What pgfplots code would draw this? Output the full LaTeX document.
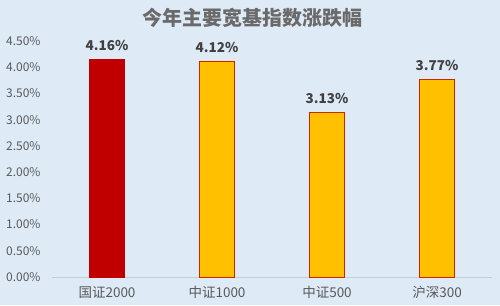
\documentclass[border=0pt]{standalone}
\usepackage{pgfplots}
\pgfplotsset{compat=1.18}
\usepackage{fontspec}
\setmainfont{Noto Sans CJK SC}
\definecolor{bgc}{RGB}{222,235,247}
\definecolor{txt}{RGB}{89,89,89}
\definecolor{dlab}{RGB}{64,64,64}
\definecolor{redbar}{RGB}{192,0,0}
\definecolor{yelbar}{RGB}{255,192,0}
\definecolor{axisc}{RGB}{200,205,210}
\begin{document}
\begin{tikzpicture}[x=1pt,y=1pt]
\useasboundingbox (0,0) rectangle (500,305);
\fill[bgc] (0,0) rectangle (500,305);
\node[text=txt!90!white, font=\fontsize{20}{22}\selectfont\bfseries] at (252,287) {今年主要宽基指数涨跌幅};
\begin{axis}[
  at={(52pt,28pt)}, anchor=south west,
  scale only axis, width=440pt, height=236pt,
  xmin=-0.5, xmax=3.5, ymin=0, ymax=4.5,
  axis x line=bottom, axis y line=left,
  x axis line style={draw=axisc, -}, y axis line style={draw=none},
  major tick length=0pt,
  xtick={0,1,2,3},
  xticklabels={国证2000,中证1000,中证500,沪深300},
  ytick={0,0.5,1,1.5,2,2.5,3,3.5,4,4.5},
  yticklabels={0.00\%,0.50\%,1.00\%,1.50\%,2.00\%,2.50\%,3.00\%,3.50\%,4.00\%,4.50\%},
  yticklabel style={anchor=east, xshift=-8pt, text=txt, font=\fontsize{12}{14}\selectfont},
  xticklabel style={anchor=north, yshift=-6pt, text=txt, font=\fontsize{13.5}{15}\selectfont},
  ybar, bar width=35pt, bar shift=0pt,
  nodes near coords,
  point meta=explicit symbolic,
  every node near coord/.append style={anchor=south, yshift=5pt, text=dlab, font=\fontsize{13.5}{15}\selectfont\bfseries},
  clip=false,
]
\addplot[fill=redbar, draw=redbar] coordinates {(0,4.16) [4.16\%]};
\addplot[fill=yelbar, draw=redbar!80!yelbar, line width=0.8pt] coordinates {(1,4.12) [4.12\%] (2,3.13) [3.13\%] (3,3.77) [3.77\%]};
\end{axis}
\end{tikzpicture}
\end{document}
